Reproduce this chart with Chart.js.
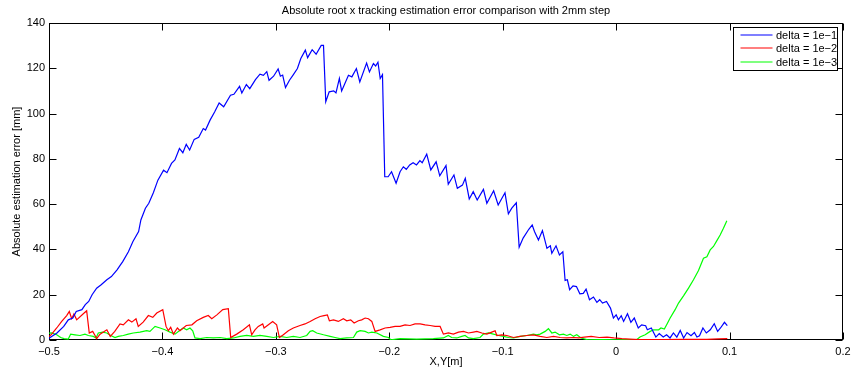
<!DOCTYPE html>
<html>
<head>
<meta charset="utf-8">
<script src="https://cdn.jsdelivr.net/npm/chart.js@4.4.1/dist/chart.umd.min.js"></script>
<style>
  html, body { margin: 0; padding: 0; background: #fff; }
  #wrap { width: 851px; height: 372px; }
</style>
</head>
<body>
<div id="wrap"><canvas id="chart" width="851" height="372"></canvas></div>
<script>
// Datos
const chartTitle = "Absolute root x tracking estimation error comparison with 2mm step";
const xLabel = "X,Y[m]";
const yLabel = "Absolute estimation error [mm]";
const seriesLabels = ["delta = 1e\u22121", "delta = 1e\u22122", "delta = 1e\u22123"];
const seriesColors = ["#0000ff", "#ff0000", "#00ff00"];
const xTicks = [-0.5, -0.4, -0.3, -0.2, -0.1, 0, 0.1, 0.2];
const yTicks = [0, 20, 40, 60, 80, 100, 120, 140];

const blueX = [-0.5, -0.493, -0.487, -0.483, -0.479, -0.476, -0.471, -0.468, -0.465, -0.462, -0.458, -0.454, -0.449, -0.445, -0.44, -0.437, -0.435, -0.43, -0.426, -0.421, -0.419, -0.415, -0.412, -0.408, -0.404, -0.399, -0.396, -0.392, -0.389, -0.385, -0.382, -0.379, -0.376, -0.372, -0.368, -0.364, -0.362, -0.358, -0.354, -0.35, -0.346, -0.34, -0.337, -0.332, -0.33, -0.326, -0.323, -0.318, -0.314, -0.311, -0.308, -0.306, -0.302, -0.298, -0.296, -0.294, -0.2915, -0.288, -0.285, -0.281, -0.278, -0.274, -0.272, -0.268, -0.2645, -0.26, -0.258, -0.256, -0.253, -0.249, -0.247, -0.244, -0.242, -0.236, -0.233, -0.229, -0.226, -0.22, -0.2175, -0.214, -0.212, -0.21, -0.208, -0.206, -0.204, -0.201, -0.198, -0.194, -0.1905, -0.1876, -0.185, -0.182, -0.179, -0.176, -0.173, -0.171, -0.167, -0.1634, -0.1587, -0.1555, -0.15, -0.148, -0.143, -0.14, -0.1355, -0.133, -0.1295, -0.126, -0.1225, -0.117, -0.114, -0.108, -0.104, -0.098, -0.095, -0.092, -0.088, -0.0855, -0.082, -0.077, -0.074, -0.072, -0.0685, -0.065, -0.061, -0.058, -0.0567, -0.053, -0.05, -0.047, -0.045, -0.043, -0.041, -0.038, -0.035, -0.032, -0.029, -0.0265, -0.0235, -0.02, -0.017, -0.0145, -0.012, -0.0085, -0.005, -0.0024, 0, 0.002, 0.0045, 0.0066, 0.01, 0.013, 0.016, 0.0195, 0.0225, 0.026, 0.0275, 0.031, 0.035, 0.038, 0.0415, 0.0445, 0.0475, 0.0505, 0.0535, 0.0565, 0.0595, 0.0625, 0.066, 0.069, 0.0712, 0.0735, 0.0765, 0.0795, 0.083, 0.0865, 0.0895, 0.092, 0.0955, 0.098];
const blueY = [0.8, 3.1, 6.0, 8.9, 9.7, 12.6, 13.4, 15.6, 17.0, 20.0, 22.9, 24.4, 26.6, 28.0, 31.0, 33.2, 34.6, 39.0, 43.5, 47.9, 53.0, 58.2, 60.4, 65.0, 70.6, 75.0, 73.9, 78.0, 79.5, 84.6, 82.7, 86.4, 83.9, 88.6, 89.5, 93.4, 92.7, 97.1, 100.7, 104.7, 103.0, 108.1, 108.5, 112.0, 109.1, 112.8, 111.0, 115.0, 117.4, 116.9, 118.5, 114.7, 116.5, 119.7, 116.5, 117.0, 111.5, 114.7, 116.9, 119.9, 124.3, 128.0, 124.7, 128.2, 126.2, 130.1, 130.1, 105.2, 109.6, 110.0, 109.1, 115.5, 110.0, 116.9, 116.2, 119.9, 114.0, 122.3, 118.4, 122.1, 121.0, 122.7, 115.5, 117.2, 72.1, 72.1, 74.3, 69.2, 74.3, 76.5, 75.4, 77.3, 78.3, 77.3, 79.2, 78.3, 82.1, 75.1, 78.7, 72.5, 77.0, 68.8, 72.9, 67.0, 68.4, 71.4, 62.3, 65.5, 61.8, 66.5, 60.4, 65.9, 59.6, 65.0, 55.7, 58.2, 60.6, 41.0, 45.0, 48.9, 50.8, 47.9, 44.2, 48.3, 40.5, 41.6, 38.3, 41.6, 37.6, 39.0, 26.3, 26.6, 22.2, 23.9, 23.6, 20.4, 20.6, 22.5, 17.8, 19.0, 16.6, 17.8, 16.3, 17.0, 14.1, 9.7, 11.1, 8.9, 10.7, 8.2, 11.6, 7.8, 9.7, 5.3, 6.7, 6.3, 4.5, 5.3, 1.3, 2.8, 1.3, 2.3, 0.9, 3.1, 1.3, 4.2, 0.9, 3.3, 1.9, 3.3, 1.3, 1.9, 5.3, 3.1, 4.5, 7.2, 3.8, 5.3, 7.8, 6.3];

const redX = [-0.5, -0.4976, -0.4932, -0.4888, -0.4844, -0.4821, -0.48, -0.478, -0.4756, -0.47, -0.4668, -0.4645, -0.4615, -0.4594, -0.458, -0.455, -0.452, -0.449, -0.446, -0.442, -0.4374, -0.4345, -0.43, -0.427, -0.4233, -0.4213, -0.417, -0.4124, -0.4085, -0.405, -0.3997, -0.3968, -0.3948, -0.3927, -0.3903, -0.3868, -0.3845, -0.379, -0.374, -0.3698, -0.364, -0.3596, -0.3565, -0.352, -0.3468, -0.3419, -0.3398, -0.3345, -0.3287, -0.3233, -0.3213, -0.3184, -0.3155, -0.3116, -0.3104, -0.3057, -0.3028, -0.2993, -0.2969, -0.2934, -0.289, -0.2846, -0.2787, -0.2743, -0.2698, -0.2654, -0.261, -0.2575, -0.2546, -0.2528, -0.2492, -0.2449, -0.2405, -0.2375, -0.234, -0.231, -0.2272, -0.2243, -0.2213, -0.2184, -0.2154, -0.2125, -0.2081, -0.2037, -0.1993, -0.1949, -0.1905, -0.1861, -0.1817, -0.1773, -0.1728, -0.1684, -0.164, -0.1596, -0.1552, -0.1523, -0.1479, -0.1435, -0.139, -0.1346, -0.1302, -0.1258, -0.1228, -0.1184, -0.114, -0.1096, -0.1067, -0.1052, -0.1008, -0.0964, -0.0905, -0.0847, -0.0787, -0.0729, -0.067, -0.0611, -0.0552, -0.0494, -0.0435, -0.0376, -0.0332, -0.028, -0.022, -0.015, -0.008, -0.002, 0.005, 0.012, 0.02, 0.04, 0.06, 0.08, 0.09, 0.098];
const redY = [1.5, 2.6, 5.3, 8.2, 10.8, 12.6, 9.4, 11.5, 8.9, 11.5, 12.9, 3.1, 3.8, 2.0, 0.6, 2.6, 3.5, 4.5, 1.6, 3.8, 7.1, 6.7, 8.9, 7.9, 9.4, 6.0, 7.9, 10.8, 10.0, 11.9, 13.4, 6.0, 4.1, 5.6, 2.6, 5.3, 4.1, 6.4, 6.7, 8.5, 10.0, 10.8, 9.4, 11.1, 13.4, 13.8, 1.1, 2.6, 4.5, 6.7, 2.3, 4.5, 6.0, 7.1, 5.3, 7.1, 8.2, 6.7, 1.1, 2.3, 4.1, 5.3, 6.4, 7.1, 8.2, 9.4, 10.4, 10.8, 11.1, 8.5, 8.9, 8.2, 9.4, 8.5, 8.9, 7.5, 8.5, 8.9, 9.7, 9.4, 8.2, 3.8, 4.5, 5.3, 5.6, 6.0, 6.0, 6.7, 6.4, 7.1, 7.1, 6.7, 6.4, 6.0, 6.0, 2.6, 3.1, 2.6, 3.5, 3.8, 3.1, 3.5, 3.8, 3.1, 2.6, 3.5, 4.1, 2.0, 2.3, 2.0, 1.1, 1.6, 2.0, 2.3, 1.6, 1.1, 1.6, 1.1, 0.9, 1.1, 0.9, 1.3, 1.6, 1.1, 1.3, 0.9, 0.6, 0.4, 0.2, 0.2, 0.3, 0.3, 0.5, 0.6];

const greenX = [-0.5, -0.4976, -0.4932, -0.4897, -0.4868, -0.483, -0.4809, -0.4771, -0.4727, -0.4683, -0.4653, -0.4609, -0.4586, -0.4565, -0.4527, -0.4491, -0.4456, -0.4418, -0.4389, -0.4345, -0.4301, -0.4257, -0.4198, -0.4139, -0.411, -0.4065, -0.4021, -0.3977, -0.3933, -0.3889, -0.3851, -0.3816, -0.3786, -0.3757, -0.3733, -0.3713, -0.3668, -0.361, -0.3551, -0.3492, -0.3433, -0.3374, -0.3316, -0.3257, -0.3198, -0.314, -0.308, -0.3022, -0.2963, -0.2904, -0.2846, -0.2787, -0.2728, -0.2698, -0.2675, -0.264, -0.258, -0.2522, -0.2478, -0.2434, -0.2375, -0.2316, -0.2287, -0.2257, -0.2213, -0.2184, -0.2154, -0.211, -0.2052, -0.2007, -0.1987, -0.1905, -0.1758, -0.1611, -0.1523, -0.148, -0.145, -0.1405, -0.1361, -0.1332, -0.1302, -0.1258, -0.12, -0.117, -0.1125, -0.1082, -0.1038, -0.0993, -0.0949, -0.0905, -0.0847, -0.0787, -0.0729, -0.07, -0.067, -0.0626, -0.0597, -0.0567, -0.0538, -0.05, -0.0465, -0.0435, -0.0405, -0.0376, -0.0347, -0.0309, -0.025, -0.012, 0.0, 0.01, 0.018, 0.021, 0.0256, 0.03, 0.033, 0.0375, 0.0395, 0.0425, 0.045, 0.0476, 0.052, 0.055, 0.0594, 0.0638, 0.0682, 0.0726, 0.077, 0.08, 0.0829, 0.0858, 0.0888, 0.0917, 0.0946, 0.0976];
const greenY = [3.0, 3.1, 2.3, 1.1, 0.6, 0.4, 2.6, 2.3, 2.0, 2.6, 2.0, 1.6, 0.9, 3.1, 3.5, 3.1, 2.0, 1.1, 1.6, 2.0, 2.6, 3.1, 3.5, 4.1, 3.8, 6.0, 5.3, 4.5, 3.5, 2.6, 4.1, 5.3, 4.5, 5.3, 4.1, 0.9, 0.6, 1.1, 0.9, 1.1, 0.6, 0.9, 1.6, 2.0, 1.6, 2.0, 1.6, 1.1, 1.6, 1.1, 1.6, 1.1, 2.0, 3.8, 4.1, 3.1, 2.3, 1.6, 1.1, 0.6, 0.9, 1.1, 3.5, 4.1, 3.8, 3.1, 3.5, 3.1, 1.6, 1.1, 0.1, 0.6, 0.4, 0.6, 0.9, 2.0, 1.1, 0.9, 1.6, 2.0, 0.9, 0.6, 1.1, 2.6, 3.1, 2.6, 2.0, 1.6, 1.1, 0.9, 1.6, 2.0, 2.6, 2.3, 2.6, 3.8, 5.0, 3.1, 3.5, 2.3, 2.6, 2.0, 2.6, 1.6, 2.3, 0.9, 0.1, 0.2, 0.1, 0.2, 0.1, 1.3, 2.3, 3.8, 4.5, 4.5, 5.3, 4.8, 7.2, 9.7, 13.4, 16.3, 19.5, 22.9, 26.6, 30.7, 36.1, 36.8, 39.8, 41.3, 43.9, 46.4, 49.4, 52.7];

const toPoints = (xs, ys) => xs.map((x, i) => ({ x: x, y: ys[i] }));
const seriesData = [toPoints(blueX, blueY), toPoints(redX, redY), toPoints(greenX, greenY)];

const FONT = "'Liberation Sans', Arial, Helvetica, sans-serif";
const fmt = (v) => {
  const n = Number(v.toFixed(1));
  return n < 0 ? "\u2212" + String(-n) : String(n);
};

// Caja y marcas hacia dentro al estilo MATLAB
const matlabAxes = {
  id: "matlabAxes",
  beforeDatasetsDraw(chart) {
    const { ctx, chartArea: a, scales } = chart;
    const L = Math.round(a.left) + 0.5, R = Math.round(a.right) - 0.5;
    const T = Math.round(a.top) + 0.5, B = Math.round(a.bottom) - 0.5;
    ctx.save();
    ctx.strokeStyle = "#000";
    ctx.lineWidth = 1;
    ctx.strokeRect(L, T, R - L, B - T);
    ctx.beginPath();
    xTicks.forEach((v) => {
      const px = Math.round(scales.x.getPixelForValue(v)) + 0.5;
      ctx.moveTo(px, B); ctx.lineTo(px, B - 7);
      ctx.moveTo(px, T); ctx.lineTo(px, T + 7);
    });
    yTicks.forEach((v) => {
      const py = Math.round(scales.y.getPixelForValue(v)) + 0.5;
      ctx.moveTo(L, py); ctx.lineTo(L + 7, py);
      ctx.moveTo(R, py); ctx.lineTo(R - 7, py);
    });
    ctx.stroke();
    ctx.restore();
  },
  afterDraw(chart) {
    const { ctx, chartArea: a } = chart;
    ctx.save();
    ctx.fillStyle = "#000";
    ctx.font = "11px " + FONT;
    ctx.textAlign = "center";
    ctx.textBaseline = "middle";
    const cx = (a.left + a.right) / 2;
    ctx.fillText(chartTitle, cx, 11);
    ctx.fillText(xLabel, cx, 362);
    ctx.translate(17, (a.top + a.bottom) / 2);
    ctx.rotate(-Math.PI / 2);
    ctx.fillText(yLabel, 0, 0);
    ctx.restore();

    // Leyenda
    const bx = 733.5, by = 27.5;
    const bw = 104, bh = 43;
    ctx.save();
    ctx.fillStyle = "#fff";
    ctx.fillRect(bx, by, bw, bh);
    ctx.strokeStyle = "#000";
    ctx.lineWidth = 1;
    ctx.strokeRect(bx, by, bw, bh);
    ctx.font = "11px " + FONT;
    ctx.textBaseline = "middle";
    ctx.textAlign = "left";
    seriesLabels.forEach((lab, i) => {
      const ry = Math.round(by + 7 + i * 13.8);
      ctx.beginPath();
      ctx.strokeStyle = seriesColors[i];
      ctx.lineWidth = 1.2;
      ctx.moveTo(bx + 7, ry);
      ctx.lineTo(bx + 39, ry);
      ctx.stroke();
      ctx.fillStyle = "#000";
      ctx.fillText(lab, bx + 42.5, ry + 0.5);
    });
    ctx.restore();
  }
};

new Chart(document.getElementById("chart"), {
  type: "line",
  data: {
    datasets: seriesLabels.map((lab, i) => ({
      label: lab,
      data: seriesData[i],
      borderColor: seriesColors[i],
      backgroundColor: seriesColors[i],
      borderWidth: 1.2,
      pointRadius: 0,
      tension: 0,
      fill: false
    }))
  },
  options: {
    responsive: false,
    animation: false,
    layout: { padding: { top: 23, right: 8, left: 0, bottom: 0 } },
    plugins: {
      legend: { display: false },
      title: { display: false },
      tooltip: { enabled: false }
    },
    scales: {
      x: {
        type: "linear",
        min: -0.5,
        max: 0.2,
        afterBuildTicks: (s) => { s.ticks = xTicks.map((v) => ({ value: v })); },
        afterFit: (s) => { s.height = 32; s.paddingLeft = 0; s.paddingRight = 0; },
        grid: { display: false, drawTicks: false },
        border: { display: false },
        ticks: { color: "#000", font: { family: FONT, size: 11 }, padding: 5, maxRotation: 0, callback: (v) => fmt(v) }
      },
      y: {
        min: 0,
        max: 140,
        afterBuildTicks: (s) => { s.ticks = yTicks.map((v) => ({ value: v })); },
        afterFit: (s) => { s.width = 49; s.paddingTop = 0; s.paddingBottom = 0; },
        grid: { display: false, drawTicks: false },
        border: { display: false },
        ticks: { color: "#000", font: { family: FONT, size: 11 }, padding: 4, callback: (v) => fmt(v) }
      }
    }
  },
  plugins: [matlabAxes]
});
</script>
</body>
</html>
